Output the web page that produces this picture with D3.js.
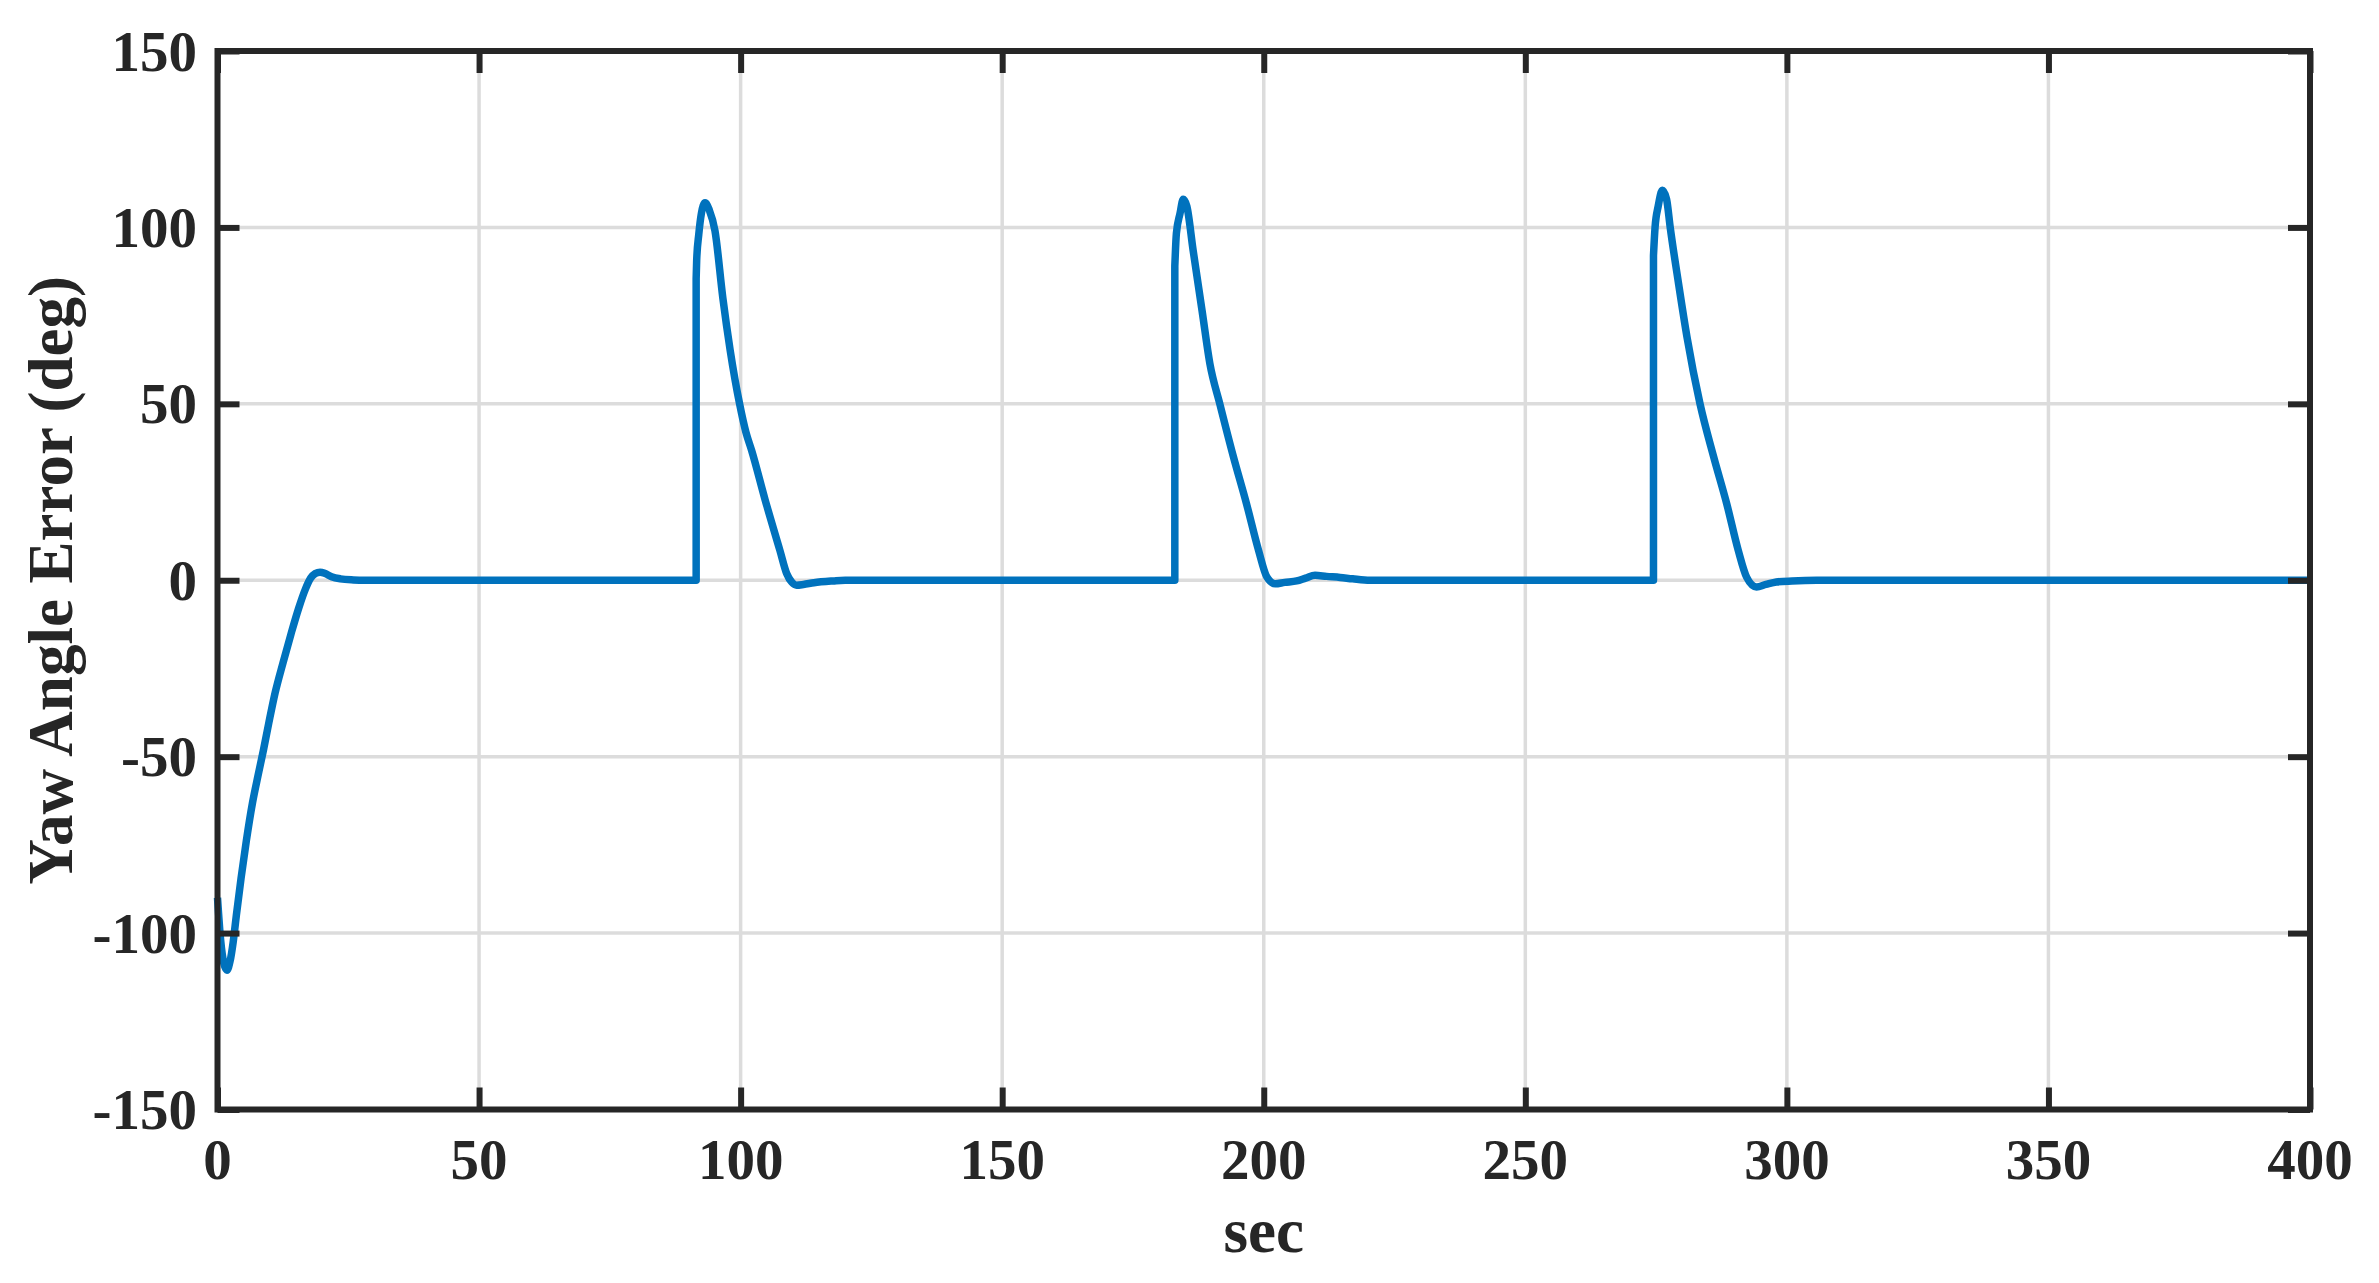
<!DOCTYPE html>
<html>
<head>
<meta charset="utf-8">
<script src="https://cdn.jsdelivr.net/npm/d3@7"></script>
<style>
  html, body { margin: 0; padding: 0; background: #ffffff; }
  svg { display: block; }
  text { font-family: "Liberation Serif", "Times New Roman", serif; font-weight: bold; fill: #262626; }
</style>
</head>
<body>
<svg id="chart" width="2379" height="1283"></svg>
<script>
// ---- data ----
const timeSec = [
  0, 0.6, 1.2, 1.8, 2.4, 3.0, 3.6, 4.5, 5.5, 6.7, 7.8, 8.8, 9.8, 11.0, 12.5, 14.0, 15.5, 16.8, 17.8, 18.7, 19.6, 20.6, 21.8, 23.5, 26.0, 28.0,
  91.5, 91.5, 91.6, 92.0, 92.5, 93.2, 94.0, 95.1, 96.6, 98.0, 99.8, 101.0, 102.1, 104.7, 107.5, 108.8, 109.8, 110.7, 112.0, 114.0, 117.7, 120.0,
  183.0, 183.0, 183.3, 184.0, 184.6, 185.3, 186.5, 188.2, 189.7, 191.6, 194.2, 196.7, 199.0, 200.6, 202.2, 204.0, 206.3, 208.0, 209.8, 212.0, 214.6, 217.0, 220.3,
  274.5, 274.5, 274.8, 275.4, 276.2, 277.0, 277.7, 279.3, 280.9, 283.4, 286.0, 288.5, 290.7, 292.3, 294.2, 296.0, 298.0, 301.0, 305.7,
  400
];
const yawErrorDeg = [
  -90, -102, -108.5, -110.5, -108, -102.5, -95, -84.5, -74, -63, -55, -48, -40.5, -32, -23.5, -15.5, -8, -2.5, 0.6, 1.9, 2.3, 1.9, 1.0, 0.4, 0.1, 0,
  0, 85.5, 90.7, 98, 104, 107, 105, 99, 80, 65.2, 50, 42, 36.8, 22.7, 8.5, 1.9, -0.6, -1.4, -1.2, -0.7, -0.2, 0,
  0, 89, 98.3, 104, 108, 106, 93.5, 76.5, 61.4, 50, 35, 21.7, 8.5, 0.9, -1.0, -0.6, -0.2, 0.6, 1.4, 1.1, 0.8, 0.4, 0,
  0, 92, 100, 106, 110.5, 108, 100, 84, 69, 50, 35, 21.7, 8.5, 0.9, -1.9, -1.2, -0.5, -0.2, 0,
  0
];
const xTicks = [0, 50, 100, 150, 200, 250, 300, 350, 400];
const yTicks = [-150, -100, -50, 0, 50, 100, 150];
const xLabel = "sec";
const yLabel = "Yaw Angle Error (deg)";

// ---- layout ----
const L = 217.5, R = 2310, T = 51, B = 1109.5;
const axisColor = "#262626";
const svg = d3.select("#chart");

const x = d3.scaleLinear().domain([0, 400]).range([L, R]);
const y = d3.scaleLinear().domain([-150, 150]).range([B, T]);

// grid
const grid = svg.append("g");
grid.selectAll("line.gx").data(xTicks.slice(1, -1)).join("line")
  .attr("x1", d => x(d)).attr("x2", d => x(d)).attr("y1", T).attr("y2", B)
  .attr("stroke", "#dcdcdc").attr("stroke-width", 3.5);
grid.selectAll("line.gy").data(yTicks.slice(1, -1)).join("line")
  .attr("x1", L).attr("x2", R).attr("y1", d => y(d)).attr("y2", d => y(d))
  .attr("stroke", "#dcdcdc").attr("stroke-width", 3.5);

// data line: split into segments at vertical jumps
const pts = timeSec.map((t, i) => ({ t, v: yawErrorDeg[i] }));
const segments = [];
let cur = [pts[0]];
for (let i = 1; i < pts.length; i++) {
  if (pts[i].t === pts[i - 1].t) { segments.push(cur); cur = [pts[i]]; }
  else cur.push(pts[i]);
}
segments.push(cur);
const lineGen = d3.line().x(d => x(d.t)).y(d => y(d.v)).curve(d3.curveMonotoneX);
let dStr = "";
segments.forEach((seg, i) => {
  let s = seg.length > 1 ? lineGen(seg) : `M${x(seg[0].t)},${y(seg[0].v)}`;
  if (i > 0) s = "L" + s.slice(1);
  dStr += s;
});
svg.append("path").attr("d", dStr)
  .attr("fill", "none").attr("stroke", "#0072BD").attr("stroke-width", 7.5)
  .attr("stroke-linejoin", "round").attr("stroke-linecap", "butt");

// axes with inward ticks (bottom, top, left, right)
const tickLen = 22;
const xAxisB = d3.axisBottom(x).tickValues(xTicks).tickSize(-tickLen).tickPadding(0).tickFormat("");
const xAxisT = d3.axisTop(x).tickValues(xTicks).tickSize(-tickLen).tickFormat("");
const yAxisL = d3.axisLeft(y).tickValues(yTicks).tickSize(-tickLen).tickFormat("");
const yAxisR = d3.axisRight(y).tickValues(yTicks).tickSize(-tickLen).tickFormat("");
function styleAxis(g) {
  g.select(".domain").remove();
  g.selectAll(".tick line").attr("stroke", axisColor).attr("stroke-width", 6);
}
svg.append("g").attr("transform", `translate(0,${B})`).call(xAxisB).call(styleAxis);
svg.append("g").attr("transform", `translate(0,${T})`).call(xAxisT).call(styleAxis);
svg.append("g").attr("transform", `translate(${L},0)`).call(yAxisL).call(styleAxis);
svg.append("g").attr("transform", `translate(${R},0)`).call(yAxisR).call(styleAxis);

// box
svg.append("rect").attr("x", L).attr("y", T).attr("width", R - L).attr("height", B - T)
  .attr("fill", "none").attr("stroke", axisColor).attr("stroke-width", 6)
  .attr("stroke-linejoin", "miter");

// tick labels
svg.append("g").selectAll("text").data(xTicks).join("text")
  .attr("x", d => x(d)).attr("y", 1179)
  .attr("text-anchor", "middle").attr("font-size", 57)
  .text(d => d);
svg.append("g").selectAll("text").data(yTicks).join("text")
  .attr("x", 197).attr("y", d => y(d) + 19.5)
  .attr("text-anchor", "end").attr("font-size", 57)
  .text(d => d);

// axis labels
svg.append("text").attr("x", (L + R) / 2).attr("y", 1252)
  .attr("text-anchor", "middle").attr("font-size", 63).text(xLabel);
svg.append("text").attr("transform", `translate(72,${(T + B) / 2}) rotate(-90)`)
  .attr("text-anchor", "middle").attr("font-size", 63).text(yLabel);
</script>
</body>
</html>
